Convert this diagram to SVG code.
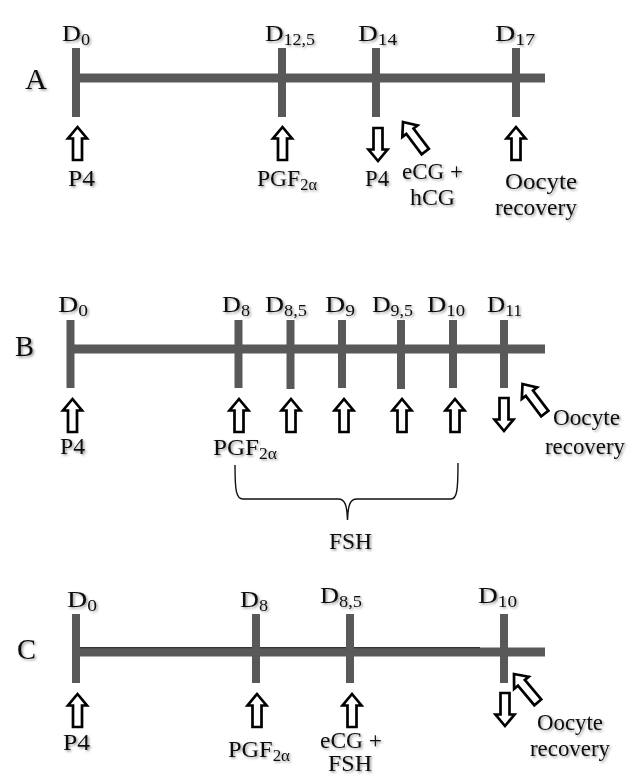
<svg xmlns="http://www.w3.org/2000/svg" xmlns:xlink="http://www.w3.org/1999/xlink" width="629" height="779" viewBox="0 0 629 779">
<defs>
<style>
.axis{stroke:#595959;stroke-width:9;fill:none}
.tick{stroke:#595959;stroke-width:8;fill:none}
.arr{fill:#fff;stroke:#000;stroke-width:2.7;stroke-linejoin:miter}
.t{font-family:"Liberation Serif","Times New Roman",serif;font-size:23px;fill:#111;filter:url(#sh)}
.d{font-size:23px}
.p{font-size:30px}
.s{font-size:16px}
.brace{fill:none;stroke:#111;stroke-width:1.4}
</style>
<filter id="sh" x="-20%" y="-20%" width="150%" height="160%">
<feDropShadow dx="1.5" dy="1.5" stdDeviation="1" flood-color="#000" flood-opacity="0.4"/>
</filter>
<path id="up" class="arr" d="M0,0 L9.5,11.5 L4.5,11.5 L4.5,33 L-4.5,33 L-4.5,11.5 L-9.5,11.5 Z"/>
<path id="diag" class="arr" d="M0,0 L9.5,11.5 L4.5,11.5 L4.5,37 L-4.5,37 L-4.5,11.5 L-9.5,11.5 Z"/>
</defs>
<rect width="629" height="779" fill="#fff"/>

<g id="connectors">
<line class="axis" x1="76" y1="78" x2="545" y2="78"/>
<line class="axis" x1="70" y1="349" x2="545" y2="349"/>
<line class="axis" x1="76" y1="652" x2="545" y2="652"/>
<line x1="80" y1="647.6" x2="480" y2="647.6" stroke="#333" stroke-width="1.2"/>
<path class="brace" d="M235,465 C235,490 236,499 243,499 L338,499 C345,499 347,505 347.5,520 C348,505 350,499 357,499 L451,499 C457,499 458,490 458,463"/>
</g>

<g id="panelA">
<text class="t p" x="25" y="89" textLength="22" lengthAdjust="spacingAndGlyphs">A</text>
<g id="A-D0">
<line class="tick" x1="76" y1="48" x2="76" y2="117"/>
<text class="t d" x="62" y="41" textLength="28" lengthAdjust="spacingAndGlyphs">D<tspan class="s" dy="4">0</tspan></text>
<use xlink:href="#up" transform="translate(77.5,127)"/>
<text class="t" x="68" y="186" textLength="27" lengthAdjust="spacingAndGlyphs">P4</text>
</g>
<g id="A-D12">
<line class="tick" x1="282" y1="48" x2="282" y2="117"/>
<text class="t d" x="265" y="41" textLength="50" lengthAdjust="spacingAndGlyphs">D<tspan class="s" dy="4">12,5</tspan></text>
<use xlink:href="#up" transform="translate(282.5,127)"/>
<text class="t" x="257" y="186" textLength="60" lengthAdjust="spacingAndGlyphs">PGF<tspan class="s" dy="4">2α</tspan></text>
</g>
<g id="A-D14">
<line class="tick" x1="376" y1="48" x2="376" y2="117"/>
<text class="t d" x="358" y="41" textLength="39" lengthAdjust="spacingAndGlyphs">D<tspan class="s" dy="4">14</tspan></text>
<use xlink:href="#up" transform="translate(378,161) rotate(180)"/>
<text class="t" x="365" y="186" textLength="24" lengthAdjust="spacingAndGlyphs">P4</text>
<use xlink:href="#diag" transform="translate(403,122) rotate(-37)"/>
<text class="t" x="402" y="179" textLength="61" lengthAdjust="spacingAndGlyphs">eCG +</text>
<text class="t" x="410" y="205" textLength="45" lengthAdjust="spacingAndGlyphs">hCG</text>
</g>
<g id="A-D17">
<line class="tick" x1="516" y1="48" x2="516" y2="117"/>
<text class="t d" x="495" y="41" textLength="40" lengthAdjust="spacingAndGlyphs">D<tspan class="s" dy="4">17</tspan></text>
<use xlink:href="#up" transform="translate(516,127)"/>
<text class="t" x="505" y="189" textLength="72" lengthAdjust="spacingAndGlyphs">Oocyte</text>
<text class="t" x="495" y="215" textLength="82" lengthAdjust="spacingAndGlyphs">recovery</text>
</g>
</g>

<g id="panelB">
<text class="t p" x="15" y="356" textLength="19" lengthAdjust="spacingAndGlyphs">B</text>
<g id="B-D0">
<line class="tick" x1="70.5" y1="320" x2="70.5" y2="388"/>
<text class="t d" x="58" y="312" textLength="30" lengthAdjust="spacingAndGlyphs">D<tspan class="s" dy="4">0</tspan></text>
<use xlink:href="#up" transform="translate(72.5,399)"/>
<text class="t" x="60" y="454" textLength="25" lengthAdjust="spacingAndGlyphs">P4</text>
</g>
<g id="B-D8">
<line class="tick" x1="238.5" y1="320" x2="238.5" y2="388"/>
<text class="t d" x="222" y="312" textLength="28" lengthAdjust="spacingAndGlyphs">D<tspan class="s" dy="4">8</tspan></text>
<use xlink:href="#up" transform="translate(239,399)"/>
<text class="t" x="213" y="455" textLength="64" lengthAdjust="spacingAndGlyphs">PGF<tspan class="s" dy="4">2α</tspan></text>
</g>
<g id="B-D8-5">
<line class="tick" x1="290.5" y1="320" x2="290.5" y2="389"/>
<text class="t d" x="265" y="312" textLength="42" lengthAdjust="spacingAndGlyphs">D<tspan class="s" dy="4">8,5</tspan></text>
<use xlink:href="#up" transform="translate(291,399)"/>
</g>
<g id="B-D9">
<line class="tick" x1="342" y1="320" x2="342" y2="388"/>
<text class="t d" x="325" y="312" textLength="30" lengthAdjust="spacingAndGlyphs">D<tspan class="s" dy="4">9</tspan></text>
<use xlink:href="#up" transform="translate(344,399)"/>
</g>
<g id="B-D9-5">
<line class="tick" x1="401" y1="320" x2="401" y2="389"/>
<text class="t d" x="372" y="312" textLength="41" lengthAdjust="spacingAndGlyphs">D<tspan class="s" dy="4">9,5</tspan></text>
<use xlink:href="#up" transform="translate(402,399)"/>
</g>
<g id="B-D10">
<line class="tick" x1="453" y1="320" x2="453" y2="388"/>
<text class="t d" x="427" y="312" textLength="38" lengthAdjust="spacingAndGlyphs">D<tspan class="s" dy="4">10</tspan></text>
<use xlink:href="#up" transform="translate(455,399)"/>
</g>
<g id="B-D11">
<line class="tick" x1="504" y1="320" x2="504" y2="388"/>
<text class="t d" x="487" y="312" textLength="35" lengthAdjust="spacingAndGlyphs">D<tspan class="s" dy="4">11</tspan></text>
<use xlink:href="#up" transform="translate(504,431) rotate(180)"/>
<use xlink:href="#diag" transform="translate(522.5,384) rotate(-37)"/>
<text class="t" x="553" y="425" textLength="67" lengthAdjust="spacingAndGlyphs">Oocyte</text>
<text class="t" x="545" y="454" textLength="80" lengthAdjust="spacingAndGlyphs">recovery</text>
</g>
<g id="B-FSH">
<text class="t" x="329" y="549" textLength="43" lengthAdjust="spacingAndGlyphs">FSH</text>
</g>
</g>

<g id="panelC">
<text class="t p" x="17" y="659" textLength="19" lengthAdjust="spacingAndGlyphs">C</text>
<g id="C-D0">
<line class="tick" x1="76" y1="614" x2="76" y2="683"/>
<text class="t d" x="67" y="607" textLength="30" lengthAdjust="spacingAndGlyphs">D<tspan class="s" dy="4">0</tspan></text>
<use xlink:href="#up" transform="translate(77.5,694)"/>
<text class="t" x="63" y="750" textLength="27" lengthAdjust="spacingAndGlyphs">P4</text>
</g>
<g id="C-D8">
<line class="tick" x1="256" y1="614" x2="256" y2="683"/>
<text class="t d" x="240" y="607" textLength="28" lengthAdjust="spacingAndGlyphs">D<tspan class="s" dy="4">8</tspan></text>
<use xlink:href="#up" transform="translate(257,694)"/>
<text class="t" x="228" y="757" textLength="62" lengthAdjust="spacingAndGlyphs">PGF<tspan class="s" dy="4">2α</tspan></text>
</g>
<g id="C-D8-5">
<line class="tick" x1="350" y1="614" x2="350" y2="683"/>
<text class="t d" x="320" y="603" textLength="42" lengthAdjust="spacingAndGlyphs">D<tspan class="s" dy="4">8,5</tspan></text>
<use xlink:href="#up" transform="translate(352,694)"/>
<text class="t" x="320" y="748" textLength="62" lengthAdjust="spacingAndGlyphs">eCG +</text>
<text class="t" x="328" y="771" textLength="44" lengthAdjust="spacingAndGlyphs">FSH</text>
</g>
<g id="C-D10">
<line class="tick" x1="504" y1="614" x2="504" y2="683"/>
<text class="t d" x="478" y="603" textLength="39" lengthAdjust="spacingAndGlyphs">D<tspan class="s" dy="4">10</tspan></text>
<use xlink:href="#up" transform="translate(505,726) rotate(180)"/>
<use xlink:href="#diag" transform="translate(514,674) rotate(-40)"/>
<text class="t" x="537" y="730" textLength="66" lengthAdjust="spacingAndGlyphs">Oocyte</text>
<text class="t" x="530" y="756" textLength="80" lengthAdjust="spacingAndGlyphs">recovery</text>
</g>
</g>
</svg>
